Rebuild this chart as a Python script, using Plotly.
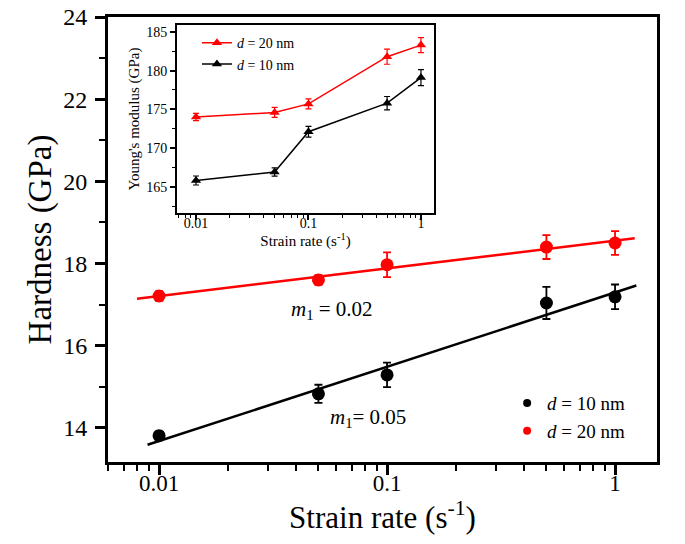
import numpy as np
import plotly.graph_objects as go

# ---------------- data ----------------
strain_rate = [0.01, 0.05, 0.1, 0.5, 1.0]

hard_10 = [13.81, 14.83, 15.29, 17.04, 17.19]
hard_10_err = [0.10, 0.22, 0.30, 0.39, 0.30]
hard_20 = [17.21, 17.60, 17.97, 18.40, 18.50]
hard_20_err = [0.12, 0.12, 0.30, 0.29, 0.29]

mod_20 = [174.0, 174.6, 175.7, 181.8, 183.3]
mod_20_err = [0.47, 0.65, 0.65, 0.97, 0.97]
mod_10 = [165.8, 166.9, 172.1, 175.8, 179.1]
mod_10_err = [0.58, 0.54, 0.69, 0.86, 1.03]

fit_range_10 = [0.0089, 1.24]
fit_range_20 = [0.0080, 1.22]

main_tickvals = [0.01, 0.1, 1]
main_ticktext = ["0.01", "0.1", "1"]
minor_vals = [m * d for d in (0.001, 0.01, 0.1) for m in range(2, 10)]

SERIF = "Liberation Serif"
RED = "#ff0000"
BLACK = "#000000"


def fit_line(xs, ys, xr):
    b, a = np.polyfit(np.log10(xs), ys, 1)
    lx = np.log10(xr)
    return list(xr), list(a + b * lx)


fig = go.Figure()

# fit lines
for ys, xr, col in ((hard_20, fit_range_20, RED), (hard_10, fit_range_10, BLACK)):
    fx, fy = fit_line(strain_rate, ys, xr)
    fig.add_trace(go.Scatter(x=fx, y=fy, mode="lines", line=dict(color=col, width=2.5),
                             showlegend=False, hoverinfo="skip"))

# main data
for ys, es, col in ((hard_20, hard_20_err, RED), (hard_10, hard_10_err, BLACK)):
    fig.add_trace(go.Scatter(
        x=strain_rate, y=ys, mode="markers",
        marker=dict(color=col, size=13, symbol="circle"),
        error_y=dict(type="data", array=es, color=col, thickness=1.8, width=4),
        showlegend=False))

# main legend entries (small dots)
fig.add_trace(go.Scatter(x=[None], y=[None], mode="markers", name="<i>d</i> = 10 nm",
                         marker=dict(color=BLACK, size=8), legend="legend"))
fig.add_trace(go.Scatter(x=[None], y=[None], mode="markers", name="<i>d</i> = 20 nm",
                         marker=dict(color=RED, size=8), legend="legend"))

# inset data
for ys, es, col, nm in ((mod_20, mod_20_err, RED, "<i>d</i> = 20 nm"),
                        (mod_10, mod_10_err, BLACK, "<i>d</i> = 10 nm")):
    fig.add_trace(go.Scatter(
        x=strain_rate, y=ys, mode="lines+markers", name=nm,
        xaxis="x2", yaxis="y2", legend="legend2",
        line=dict(color=col, width=1.5),
        marker=dict(color=col, size=9, symbol="triangle-up"),
        error_y=dict(type="data", array=es, color=col, thickness=1.2, width=3)))

axis_common = dict(showline=True, linecolor="black", mirror=True, showgrid=False,
                   zeroline=False, ticks="outside", tickcolor="black", automargin=False,
                   ticklabeloverflow="allow")

fig.update_layout(
    width=685, height=544,
    margin=dict(l=108, r=28, t=17, b=82),
    paper_bgcolor="white", plot_bgcolor="white",
    font=dict(family=SERIF, color="black"),
    xaxis=dict(**axis_common, type="log", range=[-2.224, 0.184], domain=[0, 1],
               linewidth=3, ticklen=10, tickwidth=2.5,
               tickmode="array", tickvals=main_tickvals, ticktext=main_ticktext,
               tickfont=dict(size=23, family=SERIF), ticklabelstandoff=-12,
               minor=dict(ticks="outside", ticklen=6, tickwidth=2, tickcolor="black",
                          tickmode="array", tickvals=minor_vals, showgrid=False),
               title=dict(text="Strain rate (s<sup>-1</sup>)", font=dict(size=31, family=SERIF),
                          standoff=10)),
    yaxis=dict(**axis_common, range=[13.17, 24], domain=[0, 1],
               linewidth=3, ticklen=10, tickwidth=2.5, dtick=2, tick0=0,
               tickfont=dict(size=24, family=SERIF), ticklabelstandoff=3,
               minor=dict(ticks="outside", ticklen=6, tickwidth=2, tickcolor="black",
                          dtick=1, showgrid=False),
               title=dict(text="Hardness (GPa)", font=dict(size=33, family=SERIF),
                          standoff=2)),
    xaxis2=dict(**axis_common, type="log", range=[-2.169, 0.116],
                domain=[0.1257, 0.5938], anchor="y2",
                linewidth=2, ticklen=5, tickwidth=1.5,
                tickmode="array", tickvals=main_tickvals, ticktext=main_ticktext,
                tickfont=dict(size=14, family=SERIF), ticklabelstandoff=-9,
                minor=dict(ticks="outside", ticklen=3, tickwidth=1.2, tickcolor="black",
                           tickmode="array", tickvals=minor_vals, showgrid=False),
                title=dict(text="Strain rate (s<sup>-1</sup>)", font=dict(size=15, family=SERIF),
                           standoff=4)),
    yaxis2=dict(**axis_common, range=[161.6, 185.9],
                domain=[0.5596, 0.982], anchor="x2",
                linewidth=2, ticklen=5, tickwidth=1.5, dtick=5, tick0=0,
                tickfont=dict(size=14, family=SERIF),
                minor=dict(ticks="outside", ticklen=3, tickwidth=1.2, tickcolor="black",
                           dtick=2.5, showgrid=False),
                title=dict(text="Young's modulus (GPa)", font=dict(size=15, family=SERIF),
                           standoff=3)),
    legend=dict(x=0.727, y=0.175, xanchor="left", yanchor="top",
                bgcolor="rgba(0,0,0,0)", font=dict(size=19, family=SERIF),
                tracegroupgap=0),
    legend2=dict(x=0.162, y=0.977, xanchor="left", yanchor="top",
                 bgcolor="rgba(0,0,0,0)", font=dict(size=14, family=SERIF),
                 tracegroupgap=0),
    annotations=[
        dict(text="<i>m</i><sub>1</sub> = 0.02", x=np.log10(0.0574), y=16.87,
             xref="x", yref="y", showarrow=False, font=dict(size=21, family=SERIF)),
        dict(text="<i>m</i><sub>1</sub>= 0.05", x=np.log10(0.0826), y=14.24,
             xref="x", yref="y", showarrow=False, font=dict(size=21, family=SERIF)),
    ],
)

fig.write_html("out.html",
               config=dict(displayModeBar=False),
               post_script="document.body.style.margin='0px';document.body.style.overflow='hidden';")
